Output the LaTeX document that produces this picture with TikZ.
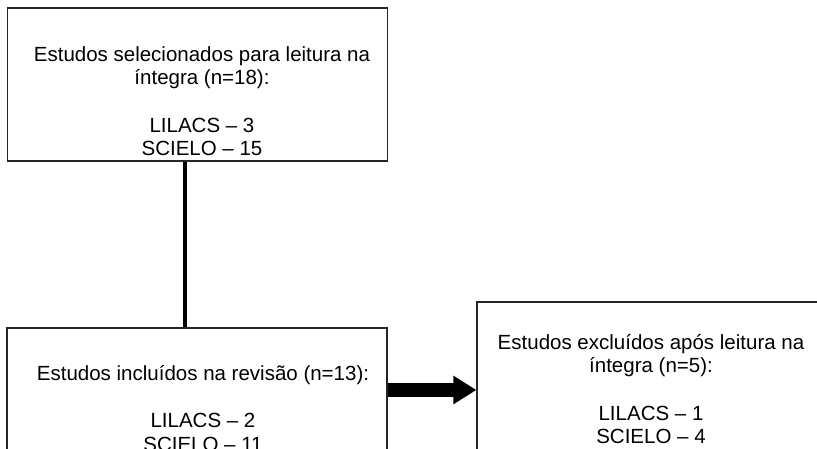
\documentclass[tikz,border=0pt]{standalone}
\usepackage{fontspec}
\setmainfont{Liberation Sans}
\usetikzlibrary{arrows.meta}

\tikzset{
  caixa/.style={draw=black!85, line width=1.2pt, minimum width=380pt,
    minimum height=153pt, inner sep=0pt},
  texto/.style={align=center, anchor=north, inner sep=0pt,
    font=\fontsize{20.5pt}{23.5pt}\selectfont},
}

\begin{document}
\begin{tikzpicture}[x=1pt,y=-1pt]
%\draw [help lines] (0,0) grid (817,449);
\useasboundingbox (0,0) rectangle (817,449);
\clip (0,0) rectangle (817,449);
\fill [white] (0,0) rectangle (817,449);
% caixas
\node [caixa] (sel) at (197.5,84.5) {};
\node [caixa] (inc) at (197,404.5) {};
\node [caixa, minimum width=341pt, minimum height=180pt] (exc) at (647.5,392) {};
% textos
\node [texto] (selT) at (202,46) {Estudos selecionados para leitura na\\
  íntegra (n=18):\\[24pt] LILACS – 3\\ SCIELO – 15};
\node [texto] (incT) at (203,365) {Estudos incluídos na revisão (n=13):\\[24pt]
  LILACS – 2\\ SCIELO – 11};
\node [texto] (excT) at (651,334) {Estudos excluídos após leitura na\\
  íntegra (n=5):\\[24pt] LILACS – 1\\ SCIELO – 4};
% ligacoes
\coordinate (flecha) at (0,390);
\draw [line width=3.5pt] ([xshift=-12.5pt]sel.south) -- ([xshift=-12pt]inc.north);
\draw [line width=14pt, -{Triangle[length=23pt,width=27pt]}]
  (inc.east |- flecha) -- (exc.west |- flecha);
\end{tikzpicture}
\end{document}
